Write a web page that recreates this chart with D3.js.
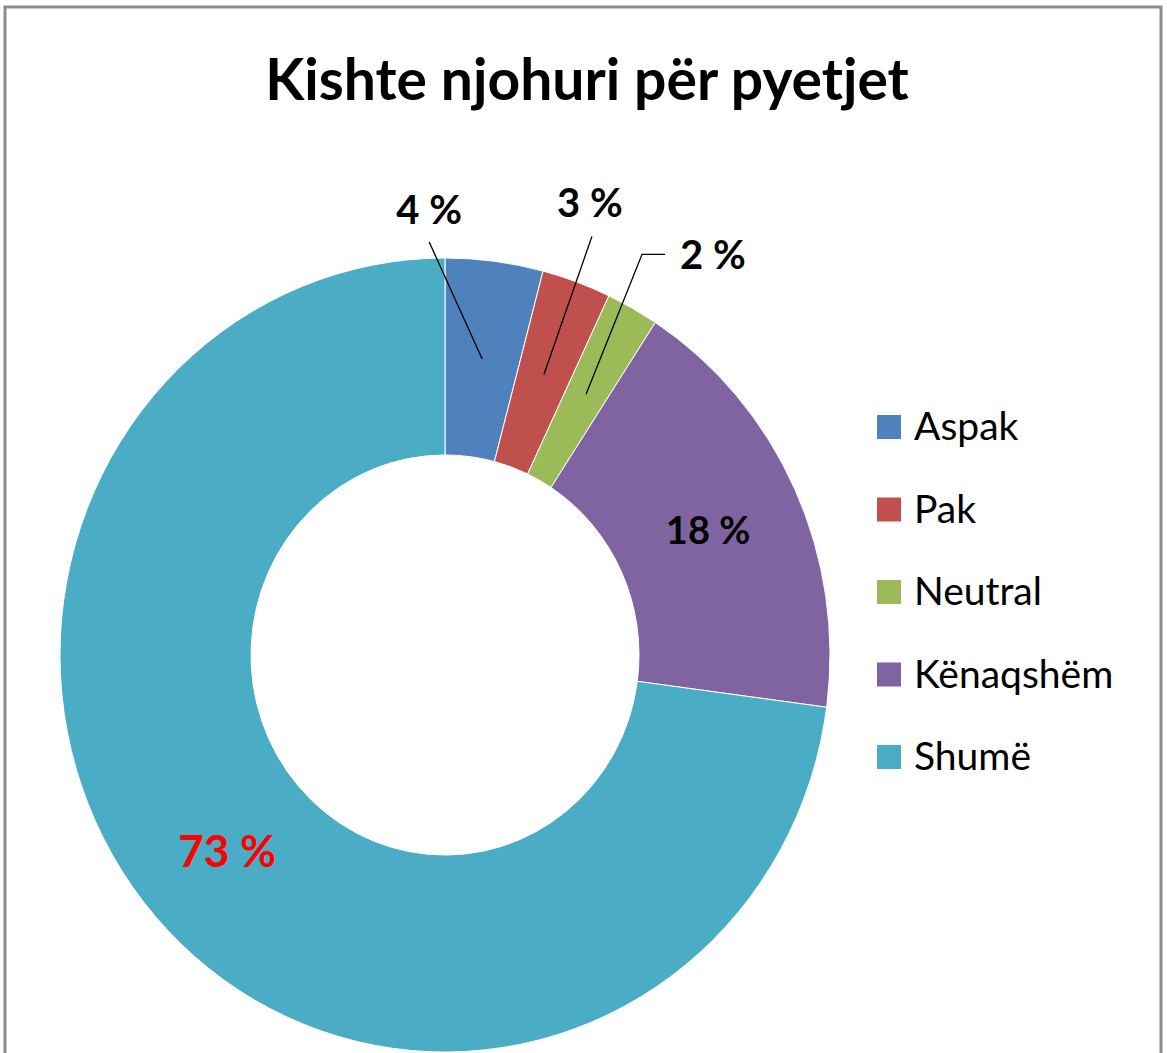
<!DOCTYPE html>
<html>
<head>
<meta charset="utf-8">
<script src="https://cdn.jsdelivr.net/npm/d3@7"></script>
<style>
  body { margin: 0; background: #fff; }
  text { font-family: Lato, "Open Sans", sans-serif; }
</style>
</head>
<body>
<div id="chart"></div>
<script>
// Data
const categories = ["Aspak", "Pak", "Neutral", "Kënaqshëm", "Shumë"];
const values = [4.1, 2.9, 2.2, 17.9, 72.9];
const colors = ["#4F81BD", "#C0504D", "#9BBB59", "#8064A2", "#4BACC6"];
const title = "Kishte njohuri për pyetjet";

// Layout
const width = 1167;
const height = 1053;
const cx = 445, cy = 655;
const outerR = 385, innerR = 194;
const squash = 397 / 385; // plot area is a little taller than wide

const svg = d3.select("#chart").append("svg")
    .attr("width", width)
    .attr("height", height);

svg.append("rect")
    .attr("width", width).attr("height", height)
    .attr("fill", "#fff");

// chart frame
svg.append("rect")
    .attr("x", 5).attr("y", 7)
    .attr("width", 1156).attr("height", 1070)
    .attr("fill", "none")
    .attr("stroke", "#8c8c8c")
    .attr("stroke-width", 3);

svg.append("text")
    .attr("x", 587).attr("y", 100)
    .attr("text-anchor", "middle")
    .attr("font-size", 57)
    .attr("font-weight", "bold")
    .attr("fill", "#000")
    .text(title);

const pie = d3.pie().sort(null).value(d => d);
const arcs = pie(values);
const arc = d3.arc().innerRadius(innerR).outerRadius(outerR);

const g = svg.append("g")
    .attr("transform", `translate(${cx},${cy}) scale(1,${squash})`);

g.selectAll("path")
    .data(arcs)
    .enter().append("path")
    .attr("d", arc)
    .attr("fill", (d, i) => colors[i])
    .attr("stroke", "#fff")
    .attr("stroke-width", 1)
    .attr("vector-effect", "non-scaling-stroke");

// centroid in page coords
function centroid(d) {
    const [x, y] = arc.centroid(d);
    return [cx + x, cy + y * squash];
}

const fmt = v => `${Math.round(v)} %`;

// small slices get a leader line out to a label above the ring
const leaders = [
    { i: 0, dx: -53, dy: -117, elbow: 0, lx: 0, ly: -18, anchor: "middle" },
    { i: 1, dx: 48, dy: -138, elbow: 0, lx: -2, ly: -19, anchor: "middle" },
    { i: 2, dx: 56, dy: -140, elbow: 23, lx: 38, ly: 15, anchor: "start" }
];

leaders.forEach(l => {
    const [x0, y0] = centroid(arcs[l.i]);
    const x1 = x0 + l.dx, y1 = y0 + l.dy;
    const pts = [[x0, y0], [x1, y1]];
    if (l.elbow) pts.push([x1 + l.elbow, y1]);
    svg.append("path")
        .attr("d", d3.line()(pts))
        .attr("fill", "none")
        .attr("stroke", "#000")
        .attr("stroke-width", 1.3);
    svg.append("text")
        .attr("x", x1 + l.lx).attr("y", y1 + l.ly)
        .attr("text-anchor", l.anchor)
        .attr("font-size", 40)
        .attr("font-weight", "bold")
        .attr("fill", "#000")
        .text(fmt(values[l.i]));
});

// big slices: label at centroid
[{ i: 3, fill: "#000", size: 38 }, { i: 4, fill: "#ff0000", size: 44 }].forEach(l => {
    const [x, y] = centroid(arcs[l.i]);
    svg.append("text")
        .attr("x", x).attr("y", y)
        .attr("dy", "0.35em")
        .attr("text-anchor", "middle")
        .attr("font-size", l.size)
        .attr("font-weight", "bold")
        .attr("fill", l.fill)
        .text(fmt(values[l.i]));
});

// Legend
const legend = svg.append("g")
    .attr("transform", "translate(877,415)");

const item = legend.selectAll("g")
    .data(categories)
    .enter().append("g")
    .attr("transform", (d, i) => `translate(0,${i * 82.5})`);

item.append("rect")
    .attr("width", 24).attr("height", 24)
    .attr("fill", (d, i) => colors[i]);

item.append("text")
    .attr("x", 37).attr("y", 25)
    .attr("font-family", "'Open Sans', sans-serif")
    .attr("font-size", 39)
    .attr("fill", "#000")
    .text(d => d);
</script>
</body>
</html>
